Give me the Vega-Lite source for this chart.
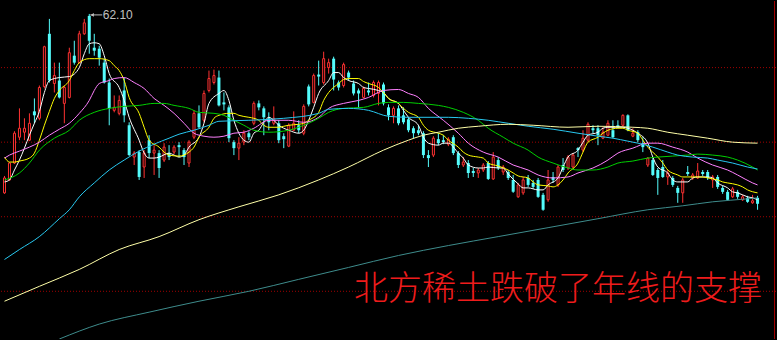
{
"$schema": "https://vega.github.io/schema/vega-lite/v6.json",
"width": 777, "height": 340,
"autosize": {"type": "fit", "contains": "padding"},
"padding": 0,
"background": "#000000",
"config": {"view": {"stroke": null}, "scale": {"continuousPadding": 0}},
"datasets": {
"k": [
{"d":0,"o":44.1,"h":45.8,"l":44.0,"c":45.6},{"d":1,"o":45.4,"h":47.2,"l":45.3,"c":47.1},{"d":2,"o":47.1,"h":50.3,"l":47.0,"c":50.1},{"d":3,"o":49.7,"h":52.6,"l":49.4,"c":50.6},{"d":4,"o":50.2,"h":51.6,"l":49.4,"c":50.6},{"d":5,"o":49.4,"h":52.1,"l":49.3,"c":51.1},{"d":6,"o":52.3,"h":53.6,"l":51.1,"c":51.9},{"d":7,"o":51.6,"h":54.9,"l":51.4,"c":54.7},{"d":8,"o":54.8,"h":58.9,"l":54.6,"c":58.8},{"d":9,"o":60.1,"h":61.6,"l":55.2,"c":55.4},
{"d":10,"o":55.1,"h":57.2,"l":54.2,"c":55.9},{"d":11,"o":55.4,"h":57.2,"l":53.6,"c":53.7},{"d":12,"o":53.1,"h":54.9,"l":51.1,"c":54.7},{"d":13,"o":53.7,"h":58.7,"l":53.6,"c":58.2},{"d":14,"o":57.9,"h":59.4,"l":57.0,"c":57.2},{"d":15,"o":57.2,"h":60.4,"l":57.1,"c":60.1},{"d":16,"o":60.1,"h":61.6,"l":60.0,"c":61.2},{"d":17,"o":61.9,"h":62.1,"l":58.1,"c":59.4},{"d":18,"o":58.7,"h":60.1,"l":57.9,"c":58.4},{"d":19,"o":58.6,"h":58.9,"l":56.9,"c":57.7},
{"d":20,"o":57.2,"h":57.6,"l":55.1,"c":55.2},{"d":21,"o":55.2,"h":55.6,"l":50.9,"c":52.6},{"d":22,"o":52.4,"h":53.9,"l":52.2,"c":52.7},{"d":23,"o":52.1,"h":53.9,"l":51.9,"c":53.4},{"d":24,"o":54.4,"h":55.7,"l":51.2,"c":51.9},{"d":25,"o":50.9,"h":51.2,"l":47.8,"c":47.9},{"d":26,"o":47.7,"h":48.3,"l":46.9,"c":48.1},{"d":27,"o":48.2,"h":48.4,"l":45.4,"c":45.7},{"d":28,"o":46.7,"h":48.4,"l":45.6,"c":48.1},{"d":29,"o":49.4,"h":49.9,"l":47.6,"c":48.1},
{"d":30,"o":48.1,"h":48.9,"l":45.9,"c":48.4},{"d":31,"o":48.1,"h":48.4,"l":45.6,"c":46.6},{"d":32,"o":47.4,"h":49.1,"l":47.2,"c":48.7},{"d":33,"o":48.1,"h":48.9,"l":47.4,"c":47.7},{"d":34,"o":48.2,"h":48.9,"l":48.0,"c":48.7},{"d":35,"o":48.9,"h":49.2,"l":47.7,"c":48.7},{"d":36,"o":48.4,"h":48.6,"l":46.9,"c":47.7},{"d":37,"o":47.1,"h":49.4,"l":46.7,"c":49.2},{"d":38,"o":49.7,"h":52.4,"l":49.5,"c":52.1},{"d":39,"o":52.1,"h":52.9,"l":50.6,"c":50.7},
{"d":40,"o":51.4,"h":54.4,"l":51.2,"c":54.1},{"d":41,"o":54.4,"h":56.4,"l":54.2,"c":55.6},{"d":42,"o":55.2,"h":56.5,"l":55.0,"c":55.9},{"d":43,"o":55.7,"h":56.4,"l":52.8,"c":52.9},{"d":44,"o":53.2,"h":54.2,"l":52.4,"c":53.0},{"d":45,"o":52.7,"h":52.9,"l":49.2,"c":49.6},{"d":46,"o":49.2,"h":49.4,"l":47.9,"c":48.6},{"d":47,"o":48.6,"h":49.7,"l":47.4,"c":49.1},{"d":48,"o":49.2,"h":50.4,"l":48.9,"c":50.1},{"d":49,"o":50.1,"h":50.3,"l":49.4,"c":49.7},
{"d":50,"o":51.1,"h":53.3,"l":50.9,"c":53.1},{"d":51,"o":53.1,"h":53.4,"l":52.4,"c":52.7},{"d":52,"o":52.6,"h":52.8,"l":49.9,"c":51.7},{"d":53,"o":51.6,"h":52.2,"l":50.4,"c":51.2},{"d":54,"o":51.1,"h":52.8,"l":50.9,"c":51.6},{"d":55,"o":51.1,"h":51.4,"l":49.1,"c":49.4},{"d":56,"o":49.8,"h":50.1,"l":48.6,"c":49.5},{"d":57,"o":48.8,"h":51.1,"l":48.7,"c":50.9},{"d":58,"o":50.4,"h":52.3,"l":50.3,"c":51.1},{"d":59,"o":50.9,"h":51.4,"l":50.1,"c":50.4},
{"d":60,"o":50.1,"h":53.0,"l":49.9,"c":52.8},{"d":61,"o":54.8,"h":55.0,"l":52.8,"c":53.0},{"d":62,"o":53.2,"h":56.1,"l":53.1,"c":55.9},{"d":63,"o":56.0,"h":57.4,"l":54.9,"c":55.8},{"d":64,"o":55.2,"h":58.3,"l":55.0,"c":57.6},{"d":65,"o":56.7,"h":57.6,"l":56.1,"c":57.2},{"d":66,"o":57.6,"h":57.8,"l":54.4,"c":55.5},{"d":67,"o":55.2,"h":55.4,"l":54.4,"c":54.7},{"d":68,"o":54.9,"h":57.2,"l":54.7,"c":57.0},{"d":69,"o":56.2,"h":56.4,"l":55.4,"c":55.7},
{"d":70,"o":55.1,"h":55.4,"l":53.9,"c":54.1},{"d":71,"o":54.4,"h":54.6,"l":52.6,"c":54.1},{"d":72,"o":53.7,"h":54.8,"l":53.6,"c":54.6},{"d":73,"o":54.4,"h":55.2,"l":53.9,"c":54.2},{"d":74,"o":53.9,"h":55.4,"l":53.7,"c":55.2},{"d":75,"o":54.1,"h":55.4,"l":52.9,"c":55.2},{"d":76,"o":55.0,"h":55.2,"l":52.9,"c":53.1},{"d":77,"o":52.7,"h":53.0,"l":51.4,"c":51.9},{"d":78,"o":51.9,"h":52.8,"l":51.1,"c":52.6},{"d":79,"o":52.6,"h":52.9,"l":50.9,"c":51.1},
{"d":80,"o":51.9,"h":52.7,"l":51.0,"c":51.2},{"d":81,"o":51.5,"h":51.7,"l":50.2,"c":50.4},{"d":82,"o":50.6,"h":50.8,"l":49.6,"c":50.1},{"d":83,"o":50.4,"h":50.9,"l":49.9,"c":50.1},{"d":84,"o":50.1,"h":50.3,"l":47.6,"c":47.9},{"d":85,"o":47.9,"h":48.4,"l":46.7,"c":47.6},{"d":86,"o":47.9,"h":49.8,"l":47.7,"c":49.6},{"d":87,"o":49.5,"h":50.1,"l":48.9,"c":49.1},{"d":88,"o":49.4,"h":49.9,"l":49.0,"c":49.2},{"d":89,"o":49.0,"h":49.7,"l":48.8,"c":49.5},
{"d":90,"o":49.7,"h":49.9,"l":47.9,"c":48.1},{"d":91,"o":48.1,"h":48.3,"l":46.6,"c":46.9},{"d":92,"o":46.9,"h":47.7,"l":46.7,"c":47.2},{"d":93,"o":47.1,"h":47.4,"l":45.6,"c":46.1},{"d":94,"o":46.3,"h":46.6,"l":45.7,"c":46.1},{"d":95,"o":46.1,"h":46.6,"l":45.6,"c":46.4},{"d":96,"o":46.4,"h":47.1,"l":46.2,"c":46.9},{"d":97,"o":47.1,"h":47.3,"l":45.4,"c":45.5},{"d":98,"o":45.5,"h":48.2,"l":45.4,"c":47.7},{"d":99,"o":47.4,"h":47.7,"l":46.4,"c":46.6},
{"d":100,"o":46.2,"h":46.9,"l":45.9,"c":46.7},{"d":101,"o":46.2,"h":46.4,"l":45.4,"c":45.6},{"d":102,"o":45.4,"h":45.9,"l":44.1,"c":44.2},{"d":103,"o":43.7,"h":45.1,"l":43.6,"c":44.9},{"d":104,"o":44.1,"h":45.7,"l":43.9,"c":45.4},{"d":105,"o":45.6,"h":45.9,"l":44.7,"c":44.9},{"d":106,"o":45.1,"h":45.4,"l":44.5,"c":44.7},{"d":107,"o":45.4,"h":45.6,"l":43.6,"c":43.7},{"d":108,"o":43.9,"h":44.1,"l":42.3,"c":42.4},{"d":109,"o":43.4,"h":46.4,"l":43.2,"c":45.4},
{"d":110,"o":45.7,"h":46.2,"l":45.1,"c":45.4},{"d":111,"o":44.9,"h":46.9,"l":44.7,"c":46.7},{"d":112,"o":46.9,"h":47.6,"l":46.2,"c":46.4},{"d":113,"o":46.6,"h":47.9,"l":46.4,"c":47.7},{"d":114,"o":46.7,"h":48.1,"l":46.6,"c":47.9},{"d":115,"o":48.6,"h":48.7,"l":47.7,"c":48.4},{"d":116,"o":48.4,"h":50.4,"l":48.2,"c":49.6},{"d":117,"o":49.4,"h":51.2,"l":49.2,"c":51.0},{"d":118,"o":50.6,"h":50.9,"l":50.1,"c":50.4},{"d":119,"o":50.6,"h":50.9,"l":48.9,"c":49.9},
{"d":120,"o":49.6,"h":50.7,"l":49.5,"c":50.2},{"d":121,"o":49.9,"h":51.4,"l":49.8,"c":51.1},{"d":122,"o":50.4,"h":51.4,"l":49.6,"c":49.7},{"d":123,"o":50.9,"h":51.4,"l":50.6,"c":50.7},{"d":124,"o":50.9,"h":52.0,"l":50.8,"c":51.9},{"d":125,"o":51.9,"h":52.0,"l":50.3,"c":50.4},{"d":126,"o":49.8,"h":50.6,"l":49.7,"c":50.1},{"d":127,"o":50.2,"h":50.4,"l":49.2,"c":49.4},{"d":128,"o":49.1,"h":49.7,"l":48.2,"c":48.7},{"d":129,"o":46.9,"h":47.7,"l":46.7,"c":47.6},
{"d":130,"o":47.4,"h":47.6,"l":45.8,"c":45.9},{"d":131,"o":46.4,"h":46.6,"l":43.9,"c":45.6},{"d":132,"o":46.7,"h":47.4,"l":45.6,"c":45.7},{"d":133,"o":45.7,"h":46.4,"l":44.9,"c":46.1},{"d":134,"o":45.6,"h":45.8,"l":44.7,"c":44.9},{"d":135,"o":44.6,"h":44.8,"l":43.1,"c":44.1},{"d":136,"o":44.1,"h":45.6,"l":43.1,"c":45.4},{"d":137,"o":46.2,"h":46.8,"l":45.8,"c":46.0},{"d":138,"o":45.6,"h":46.1,"l":45.4,"c":45.9},{"d":139,"o":45.6,"h":47.1,"l":45.5,"c":46.3},
{"d":140,"o":46.2,"h":46.4,"l":45.8,"c":46.0},{"d":141,"o":46.2,"h":46.4,"l":45.4,"c":45.6},{"d":142,"o":45.4,"h":45.9,"l":44.6,"c":45.7},{"d":143,"o":45.7,"h":45.9,"l":44.5,"c":44.7},{"d":144,"o":44.6,"h":44.8,"l":44.0,"c":44.2},{"d":145,"o":44.2,"h":44.4,"l":43.3,"c":43.4},{"d":146,"o":43.7,"h":44.7,"l":43.6,"c":44.5},{"d":147,"o":44.2,"h":44.4,"l":43.5,"c":43.7},{"d":148,"o":43.4,"h":43.9,"l":43.3,"c":43.7},{"d":149,"o":43.6,"h":43.8,"l":43.1,"c":43.2},
{"d":150,"o":43.1,"h":43.9,"l":43.0,"c":43.3},{"d":151,"o":43.6,"h":43.8,"l":42.4,"c":43.0}
],
"ma": [
{"s":"MA5","d":0,"v":45.2},{"s":"MA5","d":1,"v":45.4},{"s":"MA5","d":2,"v":46.4},{"s":"MA5","d":3,"v":47.4},{"s":"MA5","d":4,"v":48.6},{"s":"MA5","d":5,"v":49.9},{"s":"MA5","d":6,"v":51.1},{"s":"MA5","d":7,"v":52.3},{"s":"MA5","d":8,"v":54.2},{"s":"MA5","d":9,"v":55.4},{"s":"MA5","d":11,"v":55.7},{"s":"MA5","d":13,"v":55.8},{"s":"MA5","d":15,"v":56.7},{"s":"MA5","d":16,"v":58.1},{"s":"MA5","d":17,"v":59.1},{"s":"MA5","d":18,"v":59.2},{"s":"MA5","d":19,"v":59.1},{"s":"MA5","d":20,"v":57.9},{"s":"MA5","d":21,"v":56.1},{"s":"MA5","d":23,"v":54.7},{"s":"MA5","d":24,"v":53.4},{"s":"MA5","d":25,"v":51.7},{"s":"MA5","d":27,"v":49.4},{"s":"MA5","d":28,"v":48.1},{"s":"MA5","d":29,"v":47.6},{"s":"MA5","d":30,"v":47.6},{"s":"MA5","d":31,"v":47.7},{"s":"MA5","d":33,"v":48.1},{"s":"MA5","d":34,"v":47.9},{"s":"MA5","d":35,"v":47.7},{"s":"MA5","d":36,"v":47.9},{"s":"MA5","d":37,"v":48.7},{"s":"MA5","d":39,"v":49.7},{"s":"MA5","d":40,"v":51.1},{"s":"MA5","d":41,"v":53.1},{"s":"MA5","d":43,"v":54.1},{"s":"MA5","d":44,"v":54.4},{"s":"MA5","d":45,"v":53.4},{"s":"MA5","d":46,"v":51.4},{"s":"MA5","d":47,"v":50.1},{"s":"MA5","d":48,"v":49.4},{"s":"MA5","d":49,"v":49.2},{"s":"MA5","d":50,"v":50.1},{"s":"MA5","d":51,"v":50.4},{"s":"MA5","d":52,"v":51.2},{"s":"MA5","d":53,"v":51.7},{"s":"MA5","d":54,"v":51.4},{"s":"MA5","d":55,"v":50.9},{"s":"MA5","d":56,"v":50.6},{"s":"MA5","d":57,"v":50.4},{"s":"MA5","d":59,"v":50.1},{"s":"MA5","d":60,"v":50.4},{"s":"MA5","d":61,"v":51.4},{"s":"MA5","d":62,"v":52.7},{"s":"MA5","d":63,"v":54.1},{"s":"MA5","d":65,"v":55.4},{"s":"MA5","d":66,"v":56.2},{"s":"MA5","d":67,"v":56.2},{"s":"MA5","d":68,"v":55.7},{"s":"MA5","d":69,"v":55.4},{"s":"MA5","d":71,"v":55.1},{"s":"MA5","d":72,"v":54.7},{"s":"MA5","d":73,"v":54.6},{"s":"MA5","d":75,"v":54.4},{"s":"MA5","d":76,"v":54.2},{"s":"MA5","d":77,"v":53.6},{"s":"MA5","d":79,"v":53.1},{"s":"MA5","d":80,"v":52.4},{"s":"MA5","d":81,"v":51.7},{"s":"MA5","d":83,"v":50.9},{"s":"MA5","d":84,"v":49.7},{"s":"MA5","d":85,"v":49.1},{"s":"MA5","d":87,"v":48.9},{"s":"MA5","d":88,"v":49.1},{"s":"MA5","d":89,"v":49.1},{"s":"MA5","d":91,"v":48.1},{"s":"MA5","d":92,"v":47.6},{"s":"MA5","d":93,"v":46.9},{"s":"MA5","d":95,"v":46.6},{"s":"MA5","d":96,"v":46.6},{"s":"MA5","d":97,"v":46.7},{"s":"MA5","d":99,"v":46.6},{"s":"MA5","d":100,"v":46.6},{"s":"MA5","d":101,"v":46.0},{"s":"MA5","d":103,"v":45.0},{"s":"MA5","d":104,"v":44.6},{"s":"MA5","d":105,"v":44.6},{"s":"MA5","d":107,"v":44.4},{"s":"MA5","d":108,"v":44.4},{"s":"MA5","d":109,"v":44.9},{"s":"MA5","d":111,"v":45.6},{"s":"MA5","d":112,"v":46.7},{"s":"MA5","d":113,"v":47.7},{"s":"MA5","d":115,"v":48.4},{"s":"MA5","d":116,"v":49.2},{"s":"MA5","d":117,"v":49.9},{"s":"MA5","d":119,"v":50.2},{"s":"MA5","d":120,"v":50.6},{"s":"MA5","d":121,"v":50.7},{"s":"MA5","d":123,"v":50.7},{"s":"MA5","d":124,"v":50.7},{"s":"MA5","d":125,"v":50.6},{"s":"MA5","d":126,"v":50.4},{"s":"MA5","d":127,"v":50.1},{"s":"MA5","d":129,"v":49.1},{"s":"MA5","d":130,"v":47.7},{"s":"MA5","d":131,"v":46.7},{"s":"MA5","d":133,"v":46.1},{"s":"MA5","d":134,"v":45.4},{"s":"MA5","d":135,"v":45.2},{"s":"MA5","d":137,"v":45.2},{"s":"MA5","d":138,"v":45.6},{"s":"MA5","d":139,"v":45.7},{"s":"MA5","d":141,"v":45.7},{"s":"MA5","d":142,"v":45.6},{"s":"MA5","d":143,"v":45.1},{"s":"MA5","d":145,"v":44.6},{"s":"MA5","d":146,"v":44.2},{"s":"MA5","d":147,"v":44.1},{"s":"MA5","d":149,"v":43.7},{"s":"MA5","d":150,"v":43.6},{"s":"MA5","d":151,"v":43.4},
{"s":"MA10","d":0,"v":47.7},{"s":"MA10","d":1,"v":47.2},{"s":"MA10","d":2,"v":47.2},{"s":"MA10","d":3,"v":47.3},{"s":"MA10","d":5,"v":47.6},{"s":"MA10","d":6,"v":48.1},{"s":"MA10","d":7,"v":49.4},{"s":"MA10","d":8,"v":50.9},{"s":"MA10","d":9,"v":52.3},{"s":"MA10","d":10,"v":53.6},{"s":"MA10","d":11,"v":54.4},{"s":"MA10","d":13,"v":55.4},{"s":"MA10","d":14,"v":56.4},{"s":"MA10","d":15,"v":57.2},{"s":"MA10","d":17,"v":57.6},{"s":"MA10","d":18,"v":57.6},{"s":"MA10","d":19,"v":57.6},{"s":"MA10","d":21,"v":57.4},{"s":"MA10","d":22,"v":56.9},{"s":"MA10","d":23,"v":56.4},{"s":"MA10","d":24,"v":55.4},{"s":"MA10","d":25,"v":53.7},{"s":"MA10","d":27,"v":52.1},{"s":"MA10","d":28,"v":50.7},{"s":"MA10","d":29,"v":49.4},{"s":"MA10","d":31,"v":48.7},{"s":"MA10","d":32,"v":48.2},{"s":"MA10","d":33,"v":47.9},{"s":"MA10","d":35,"v":47.8},{"s":"MA10","d":36,"v":47.9},{"s":"MA10","d":37,"v":48.2},{"s":"MA10","d":38,"v":48.7},{"s":"MA10","d":39,"v":49.7},{"s":"MA10","d":41,"v":50.7},{"s":"MA10","d":42,"v":51.6},{"s":"MA10","d":43,"v":51.9},{"s":"MA10","d":45,"v":52.1},{"s":"MA10","d":46,"v":52.1},{"s":"MA10","d":47,"v":51.9},{"s":"MA10","d":49,"v":51.7},{"s":"MA10","d":50,"v":51.6},{"s":"MA10","d":51,"v":51.4},{"s":"MA10","d":52,"v":50.9},{"s":"MA10","d":53,"v":50.7},{"s":"MA10","d":55,"v":50.7},{"s":"MA10","d":56,"v":50.8},{"s":"MA10","d":57,"v":50.9},{"s":"MA10","d":59,"v":51.0},{"s":"MA10","d":60,"v":51.1},{"s":"MA10","d":61,"v":51.4},{"s":"MA10","d":63,"v":52.2},{"s":"MA10","d":64,"v":53.4},{"s":"MA10","d":65,"v":54.2},{"s":"MA10","d":67,"v":55.1},{"s":"MA10","d":68,"v":55.5},{"s":"MA10","d":69,"v":55.6},{"s":"MA10","d":71,"v":55.6},{"s":"MA10","d":72,"v":55.3},{"s":"MA10","d":73,"v":55.1},{"s":"MA10","d":75,"v":54.7},{"s":"MA10","d":76,"v":54.2},{"s":"MA10","d":77,"v":53.6},{"s":"MA10","d":79,"v":53.1},{"s":"MA10","d":80,"v":52.6},{"s":"MA10","d":81,"v":52.2},{"s":"MA10","d":83,"v":51.7},{"s":"MA10","d":84,"v":50.9},{"s":"MA10","d":85,"v":50.4},{"s":"MA10","d":87,"v":50.1},{"s":"MA10","d":88,"v":49.9},{"s":"MA10","d":89,"v":49.4},{"s":"MA10","d":91,"v":48.7},{"s":"MA10","d":92,"v":48.2},{"s":"MA10","d":93,"v":47.9},{"s":"MA10","d":95,"v":47.7},{"s":"MA10","d":96,"v":47.6},{"s":"MA10","d":97,"v":47.1},{"s":"MA10","d":99,"v":46.8},{"s":"MA10","d":101,"v":46.4},{"s":"MA10","d":102,"v":46.1},{"s":"MA10","d":103,"v":45.8},{"s":"MA10","d":105,"v":45.6},{"s":"MA10","d":106,"v":45.2},{"s":"MA10","d":107,"v":44.9},{"s":"MA10","d":109,"v":44.8},{"s":"MA10","d":110,"v":44.7},{"s":"MA10","d":111,"v":44.9},{"s":"MA10","d":112,"v":45.4},{"s":"MA10","d":113,"v":46.1},{"s":"MA10","d":115,"v":47.1},{"s":"MA10","d":116,"v":48.2},{"s":"MA10","d":117,"v":49.2},{"s":"MA10","d":119,"v":49.7},{"s":"MA10","d":120,"v":50.1},{"s":"MA10","d":121,"v":50.4},{"s":"MA10","d":123,"v":50.6},{"s":"MA10","d":124,"v":50.6},{"s":"MA10","d":125,"v":50.4},{"s":"MA10","d":127,"v":50.1},{"s":"MA10","d":128,"v":49.4},{"s":"MA10","d":129,"v":48.7},{"s":"MA10","d":131,"v":47.7},{"s":"MA10","d":132,"v":47.1},{"s":"MA10","d":133,"v":46.4},{"s":"MA10","d":135,"v":45.9},{"s":"MA10","d":136,"v":45.7},{"s":"MA10","d":137,"v":45.7},{"s":"MA10","d":139,"v":45.7},{"s":"MA10","d":140,"v":45.7},{"s":"MA10","d":141,"v":45.6},{"s":"MA10","d":143,"v":45.4},{"s":"MA10","d":144,"v":45.2},{"s":"MA10","d":145,"v":45.1},{"s":"MA10","d":147,"v":44.9},{"s":"MA10","d":148,"v":44.7},{"s":"MA10","d":149,"v":44.4},{"s":"MA10","d":151,"v":44.1},
{"s":"MA20","d":0,"v":47.6},{"s":"MA20","d":1,"v":47.9},{"s":"MA20","d":3,"v":48.3},{"s":"MA20","d":5,"v":48.7},{"s":"MA20","d":7,"v":49.2},{"s":"MA20","d":9,"v":49.9},{"s":"MA20","d":11,"v":50.5},{"s":"MA20","d":13,"v":51.1},{"s":"MA20","d":15,"v":52.1},{"s":"MA20","d":17,"v":53.4},{"s":"MA20","d":18,"v":54.4},{"s":"MA20","d":19,"v":55.1},{"s":"MA20","d":21,"v":55.4},{"s":"MA20","d":22,"v":55.6},{"s":"MA20","d":24,"v":55.7},{"s":"MA20","d":26,"v":55.2},{"s":"MA20","d":28,"v":54.6},{"s":"MA20","d":30,"v":53.6},{"s":"MA20","d":32,"v":52.9},{"s":"MA20","d":34,"v":52.1},{"s":"MA20","d":36,"v":51.1},{"s":"MA20","d":38,"v":50.1},{"s":"MA20","d":40,"v":49.8},{"s":"MA20","d":42,"v":49.7},{"s":"MA20","d":44,"v":49.8},{"s":"MA20","d":46,"v":50.1},{"s":"MA20","d":48,"v":50.2},{"s":"MA20","d":50,"v":50.6},{"s":"MA20","d":53,"v":51.4},{"s":"MA20","d":57,"v":51.4},{"s":"MA20","d":60,"v":51.2},{"s":"MA20","d":63,"v":51.7},{"s":"MA20","d":65,"v":52.6},{"s":"MA20","d":68,"v":53.1},{"s":"MA20","d":71,"v":53.4},{"s":"MA20","d":73,"v":53.7},{"s":"MA20","d":76,"v":54.4},{"s":"MA20","d":79,"v":54.5},{"s":"MA20","d":81,"v":54.1},{"s":"MA20","d":83,"v":53.7},{"s":"MA20","d":85,"v":52.6},{"s":"MA20","d":88,"v":51.4},{"s":"MA20","d":91,"v":50.1},{"s":"MA20","d":93,"v":49.1},{"s":"MA20","d":96,"v":48.2},{"s":"MA20","d":99,"v":47.7},{"s":"MA20","d":102,"v":46.9},{"s":"MA20","d":105,"v":46.4},{"s":"MA20","d":107,"v":45.9},{"s":"MA20","d":110,"v":45.6},{"s":"MA20","d":113,"v":45.7},{"s":"MA20","d":115,"v":46.1},{"s":"MA20","d":118,"v":46.6},{"s":"MA20","d":121,"v":47.4},{"s":"MA20","d":123,"v":48.1},{"s":"MA20","d":126,"v":48.6},{"s":"MA20","d":129,"v":49.1},{"s":"MA20","d":131,"v":49.1},{"s":"MA20","d":134,"v":48.7},{"s":"MA20","d":137,"v":48.2},{"s":"MA20","d":139,"v":47.6},{"s":"MA20","d":142,"v":46.9},{"s":"MA20","d":145,"v":46.4},{"s":"MA20","d":147,"v":45.9},{"s":"MA20","d":150,"v":45.1},{"s":"MA20","d":151,"v":44.9},
{"s":"MA30","d":0,"v":45.4},{"s":"MA30","d":3,"v":46.1},{"s":"MA30","d":5,"v":47.1},{"s":"MA30","d":7,"v":48.4},{"s":"MA30","d":10,"v":49.6},{"s":"MA30","d":13,"v":50.4},{"s":"MA30","d":15,"v":51.4},{"s":"MA30","d":18,"v":52.2},{"s":"MA30","d":21,"v":52.6},{"s":"MA30","d":24,"v":52.8},{"s":"MA30","d":27,"v":52.9},{"s":"MA30","d":30,"v":53.1},{"s":"MA30","d":32,"v":53.1},{"s":"MA30","d":34,"v":52.9},{"s":"MA30","d":37,"v":52.6},{"s":"MA30","d":39,"v":52.2},{"s":"MA30","d":42,"v":52.1},{"s":"MA30","d":44,"v":51.9},{"s":"MA30","d":46,"v":51.4},{"s":"MA30","d":48,"v":50.9},{"s":"MA30","d":50,"v":50.4},{"s":"MA30","d":53,"v":50.2},{"s":"MA30","d":57,"v":50.4},{"s":"MA30","d":60,"v":50.9},{"s":"MA30","d":63,"v":51.6},{"s":"MA30","d":65,"v":52.2},{"s":"MA30","d":68,"v":52.6},{"s":"MA30","d":72,"v":52.7},{"s":"MA30","d":75,"v":53.1},{"s":"MA30","d":77,"v":53.2},{"s":"MA30","d":80,"v":53.2},{"s":"MA30","d":83,"v":53.1},{"s":"MA30","d":87,"v":52.9},{"s":"MA30","d":89,"v":52.7},{"s":"MA30","d":92,"v":52.2},{"s":"MA30","d":95,"v":51.4},{"s":"MA30","d":97,"v":50.6},{"s":"MA30","d":100,"v":49.7},{"s":"MA30","d":102,"v":49.1},{"s":"MA30","d":105,"v":48.4},{"s":"MA30","d":107,"v":47.7},{"s":"MA30","d":110,"v":47.1},{"s":"MA30","d":113,"v":46.6},{"s":"MA30","d":115,"v":46.4},{"s":"MA30","d":118,"v":46.4},{"s":"MA30","d":121,"v":46.7},{"s":"MA30","d":123,"v":47.1},{"s":"MA30","d":126,"v":47.3},{"s":"MA30","d":129,"v":47.6},{"s":"MA30","d":131,"v":47.7},{"s":"MA30","d":134,"v":47.8},{"s":"MA30","d":137,"v":47.9},{"s":"MA30","d":139,"v":48.0},{"s":"MA30","d":142,"v":47.9},{"s":"MA30","d":145,"v":47.7},{"s":"MA30","d":147,"v":47.4},{"s":"MA30","d":150,"v":46.7},{"s":"MA30","d":151,"v":46.4},
{"s":"MA60","d":0,"v":37.4},{"s":"MA60","d":3,"v":38.4},{"s":"MA60","d":7,"v":39.7},{"s":"MA60","d":11,"v":41.5},{"s":"MA60","d":13,"v":42.4},{"s":"MA60","d":15,"v":43.7},{"s":"MA60","d":18,"v":45.1},{"s":"MA60","d":21,"v":46.4},{"s":"MA60","d":24,"v":47.4},{"s":"MA60","d":27,"v":48.3},{"s":"MA60","d":30,"v":49.0},{"s":"MA60","d":33,"v":49.6},{"s":"MA60","d":35,"v":50.0},{"s":"MA60","d":38,"v":50.4},{"s":"MA60","d":41,"v":50.9},{"s":"MA60","d":43,"v":51.3},{"s":"MA60","d":49,"v":51.4},{"s":"MA60","d":56,"v":51.6},{"s":"MA60","d":63,"v":52.1},{"s":"MA60","d":65,"v":52.5},{"s":"MA60","d":69,"v":52.6},{"s":"MA60","d":73,"v":52.4},{"s":"MA60","d":77,"v":51.8},{"s":"MA60","d":81,"v":51.7},{"s":"MA60","d":89,"v":51.7},{"s":"MA60","d":93,"v":51.6},{"s":"MA60","d":97,"v":51.4},{"s":"MA60","d":101,"v":51.1},{"s":"MA60","d":105,"v":50.8},{"s":"MA60","d":110,"v":50.5},{"s":"MA60","d":115,"v":50.1},{"s":"MA60","d":119,"v":49.8},{"s":"MA60","d":122,"v":49.6},{"s":"MA60","d":125,"v":49.3},{"s":"MA60","d":127,"v":49.1},{"s":"MA60","d":130,"v":48.7},{"s":"MA60","d":133,"v":48.2},{"s":"MA60","d":135,"v":47.9},{"s":"MA60","d":138,"v":47.7},{"s":"MA60","d":141,"v":47.6},{"s":"MA60","d":143,"v":47.4},{"s":"MA60","d":146,"v":47.1},{"s":"MA60","d":149,"v":46.7},{"s":"MA60","d":151,"v":46.5},
{"s":"MA120","d":0,"v":33.2},{"s":"MA120","d":7,"v":34.7},{"s":"MA120","d":15,"v":36.4},{"s":"MA120","d":23,"v":38.4},{"s":"MA120","d":31,"v":39.7},{"s":"MA120","d":39,"v":41.4},{"s":"MA120","d":47,"v":42.7},{"s":"MA120","d":55,"v":43.9},{"s":"MA120","d":63,"v":45.4},{"s":"MA120","d":69,"v":46.7},{"s":"MA120","d":76,"v":48.4},{"s":"MA120","d":81,"v":49.4},{"s":"MA120","d":84,"v":49.9},{"s":"MA120","d":87,"v":50.2},{"s":"MA120","d":91,"v":50.6},{"s":"MA120","d":95,"v":50.8},{"s":"MA120","d":101,"v":51.0},{"s":"MA120","d":106,"v":50.9},{"s":"MA120","d":113,"v":50.7},{"s":"MA120","d":119,"v":50.8},{"s":"MA120","d":126,"v":50.7},{"s":"MA120","d":129,"v":50.6},{"s":"MA120","d":133,"v":50.2},{"s":"MA120","d":137,"v":49.9},{"s":"MA120","d":141,"v":49.6},{"s":"MA120","d":146,"v":49.2},{"s":"MA120","d":151,"v":49.1},
{"s":"MA250","d":11,"v":29.4},{"s":"MA250","d":19,"v":30.9},{"s":"MA250","d":29,"v":32.1},{"s":"MA250","d":39,"v":33.2},{"s":"MA250","d":49,"v":34.2},{"s":"MA250","d":59,"v":35.4},{"s":"MA250","d":69,"v":36.6},{"s":"MA250","d":79,"v":37.8},{"s":"MA250","d":89,"v":38.8},{"s":"MA250","d":99,"v":39.7},{"s":"MA250","d":109,"v":40.6},{"s":"MA250","d":119,"v":41.5},{"s":"MA250","d":129,"v":42.4},{"s":"MA250","d":136,"v":42.8},{"s":"MA250","d":142,"v":43.2},{"s":"MA250","d":149,"v":43.5},{"s":"MA250","d":151,"v":43.6}
]
},
"layer": [
{
"data": {"values": [{"g": 56.7}, {"g": 49.2}, {"g": 41.7}, {"g": 34.2}]},
"mark": {"type": "rule", "color": "#a00000", "strokeWidth": 1, "strokeDash": [1, 2]},
"encoding": {"y": {"field": "g", "type": "quantitative", "scale": {"domain": [29.4, 63.4], "nice": false, "zero": false, "padding": 0}, "axis": null}}
},
{
"data": {"values": [{"b": 154.4}]},
"mark": {"type": "rule", "color": "#a00000", "strokeWidth": 1},
"encoding": {"x": {"field": "b", "type": "quantitative", "scale": {"domain": [-0.7, 154.7], "nice": false, "zero": false, "padding": 0}, "axis": null}}
},
{
"data": {"name": "k"},
"mark": {"type": "rule", "strokeWidth": 1},
"encoding": {
"x": {"field": "d", "type": "quantitative", "scale": {"domain": [-0.7, 154.7], "nice": false, "zero": false, "padding": 0}, "axis": null},
"y": {"field": "l", "type": "quantitative", "scale": {"domain": [29.4, 63.4], "nice": false, "zero": false, "padding": 0}, "axis": null},
"y2": {"field": "h"},
"color": {"condition": {"test": "datum.c >= datum.o", "value": "#ff3232"}, "value": "#54fcfc"}
}
},
{
"data": {"name": "k"},
"transform": [{"filter": "datum.c < datum.o"}],
"mark": {"type": "bar", "size": 3, "color": "#54fcfc"},
"encoding": {
"x": {"field": "d", "type": "quantitative", "scale": {"domain": [-0.7, 154.7], "nice": false, "zero": false, "padding": 0}, "axis": null},
"y": {"field": "o", "type": "quantitative", "scale": {"domain": [29.4, 63.4], "nice": false, "zero": false, "padding": 0}, "axis": null},
"y2": {"field": "c"}
}
},
{
"data": {"name": "k"},
"transform": [{"filter": "datum.c >= datum.o"}],
"mark": {"type": "bar", "size": 2, "fill": "#000000", "stroke": "#ff3232", "strokeWidth": 1},
"encoding": {
"x": {"field": "d", "type": "quantitative", "scale": {"domain": [-0.7, 154.7], "nice": false, "zero": false, "padding": 0}, "axis": null},
"y": {"field": "o", "type": "quantitative", "scale": {"domain": [29.4, 63.4], "nice": false, "zero": false, "padding": 0}, "axis": null},
"y2": {"field": "c"}
}
},
{
"data": {"name": "ma"},
"mark": {"type": "line", "strokeWidth": 1, "interpolate": "monotone", "clip": true},
"encoding": {
"x": {"field": "d", "type": "quantitative", "scale": {"domain": [-0.7, 154.7], "nice": false, "zero": false, "padding": 0}, "axis": null},
"y": {"field": "v", "type": "quantitative", "scale": {"domain": [29.4, 63.4], "nice": false, "zero": false, "padding": 0}, "axis": null},
"color": {"field": "s", "type": "nominal", "legend": null, "scale": {"domain": ["MA5", "MA10", "MA20", "MA30", "MA60", "MA120", "MA250"], "range": ["#ffffff", "#ffff00", "#ff80ff", "#00d000", "#28c8f0", "#ffffa8", "#3e8c8c"]}},
"order": {"field": "d", "type": "quantitative"}
}
},
{
"data": {"values": [{"d1": 17.2, "d2": 19.6, "p": 62.0}]},
"mark": {"type": "rule", "color": "#c0c0c0", "strokeWidth": 1},
"encoding": {
"x": {"field": "d1", "type": "quantitative", "scale": {"domain": [-0.7, 154.7], "nice": false, "zero": false, "padding": 0}, "axis": null},
"x2": {"field": "d2"},
"y": {"field": "p", "type": "quantitative", "scale": {"domain": [29.4, 63.4], "nice": false, "zero": false, "padding": 0}, "axis": null}
}
},
{
"data": {"values": [{"d": 17.6, "p": 62.0}]},
"mark": {"type": "point", "shape": "triangle-left", "filled": true, "size": 14, "color": "#c0c0c0", "opacity": 1},
"encoding": {
"x": {"field": "d", "type": "quantitative", "scale": {"domain": [-0.7, 154.7], "nice": false, "zero": false, "padding": 0}, "axis": null},
"y": {"field": "p", "type": "quantitative", "scale": {"domain": [29.4, 63.4], "nice": false, "zero": false, "padding": 0}, "axis": null}
}
},
{
"data": {"values": [{"d": 19.7, "p": 62.0, "t": "62.10"}]},
"mark": {"type": "text", "align": "left", "baseline": "middle", "font": "Liberation Sans", "fontSize": 12, "color": "#c0c0c0"},
"encoding": {
"x": {"field": "d", "type": "quantitative", "scale": {"domain": [-0.7, 154.7], "nice": false, "zero": false, "padding": 0}, "axis": null},
"y": {"field": "p", "type": "quantitative", "scale": {"domain": [29.4, 63.4], "nice": false, "zero": false, "padding": 0}, "axis": null},
"text": {"field": "t"}
}
},
{
"data": {"values": [{"d": 151.9, "p": 34.3, "t": "北方稀土跌破了年线的支撑"}]},
"mark": {"type": "text", "align": "right", "baseline": "middle", "font": "Noto Sans CJK SC", "fontSize": 34, "fontWeight": 300, "color": "#ee1c1c"},
"encoding": {
"x": {"field": "d", "type": "quantitative", "scale": {"domain": [-0.7, 154.7], "nice": false, "zero": false, "padding": 0}, "axis": null},
"y": {"field": "p", "type": "quantitative", "scale": {"domain": [29.4, 63.4], "nice": false, "zero": false, "padding": 0}, "axis": null},
"text": {"field": "t"}
}
}
]
}
